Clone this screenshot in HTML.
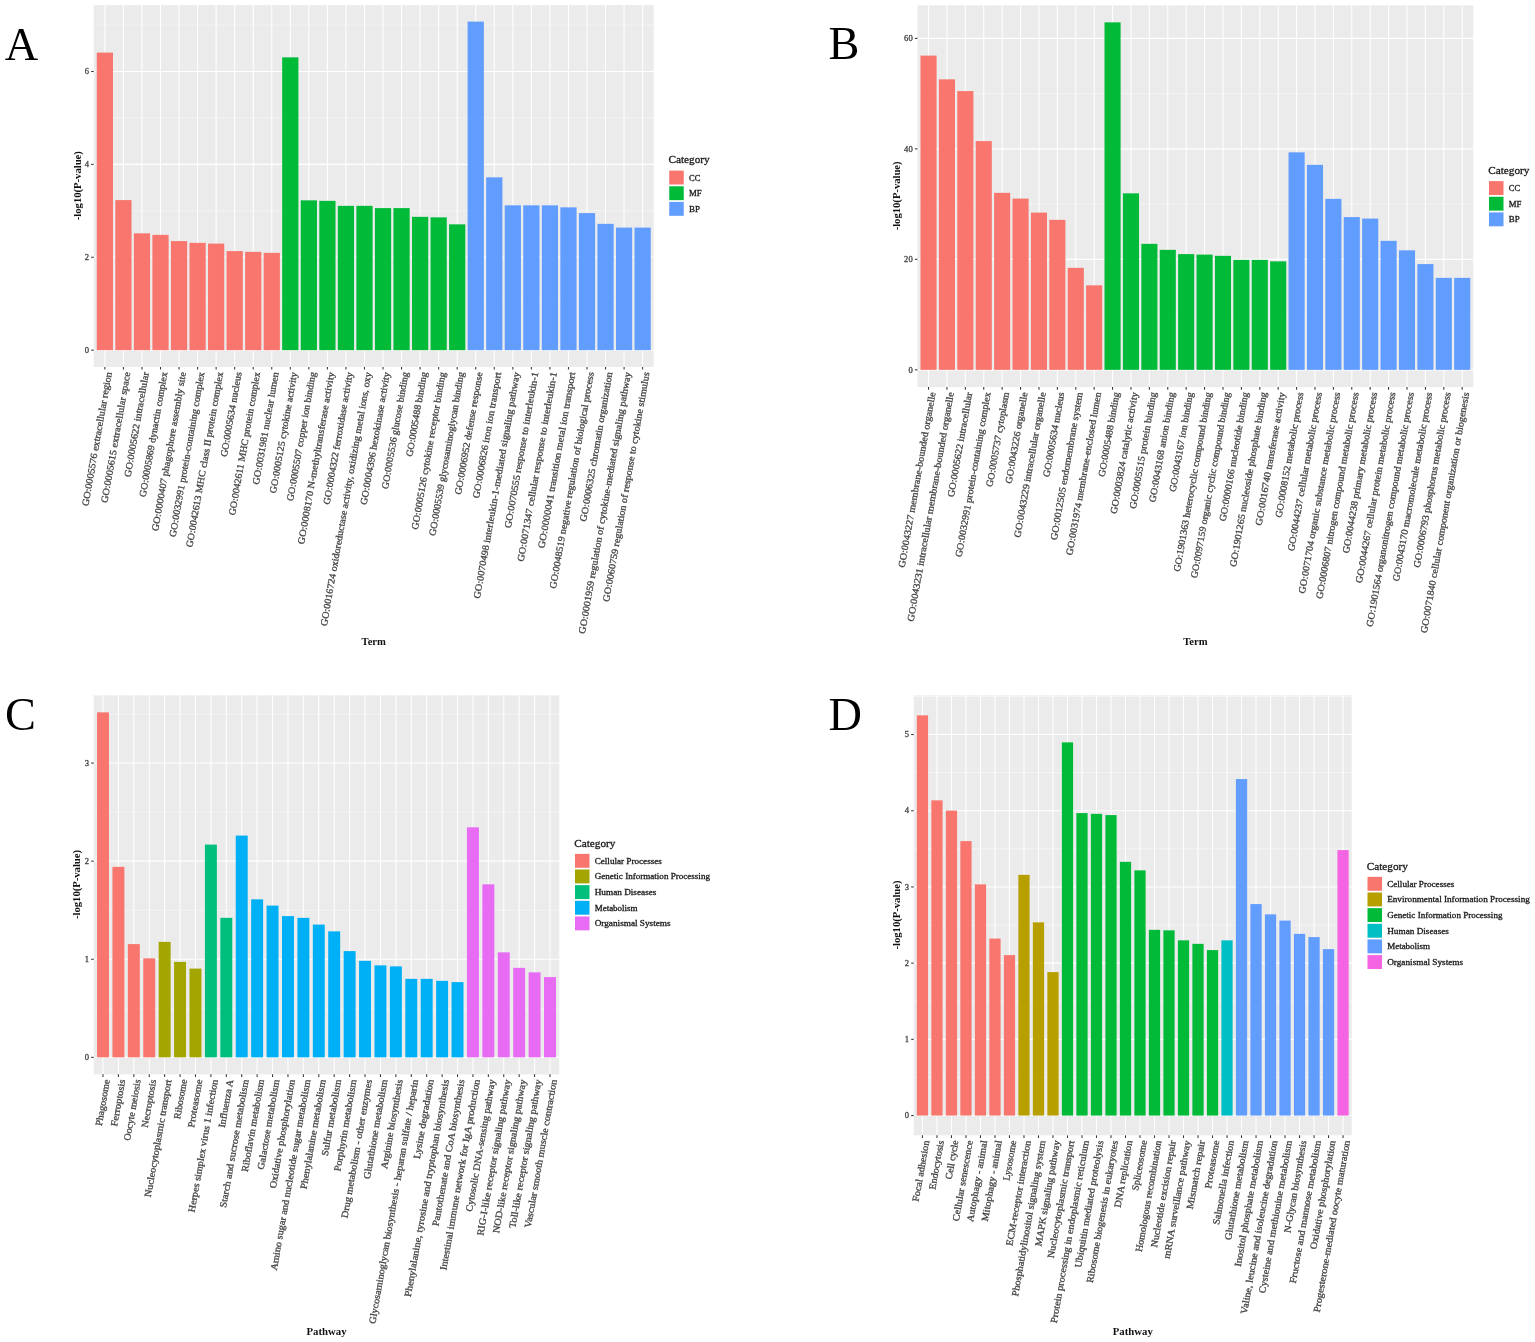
<!DOCTYPE html><html><head><meta charset="utf-8"><title>Figure</title><style>html,body{margin:0;padding:0;background:#fff}svg{display:block}text{font-family:"Liberation Serif",serif}.t{fill:#444;stroke:#444;stroke-width:.3px}.k{fill:#1a1a1a;stroke:#1a1a1a;stroke-width:.3px}.b{fill:#111}</style></head><body>
<svg width="1535" height="1342" viewBox="0 0 1535 1342">
<rect width="1535" height="1342" fill="#fff"/>
<g transform="translate(0,0.35)">
<rect x="93.75" y="4.75" width="560.0" height="361.85" fill="#EBEBEB"/>
<line x1="93.75" x2="653.75" y1="303.35" y2="303.35" stroke="#fff" stroke-width="0.55" stroke-opacity="0.85"/>
<line x1="93.75" x2="653.75" y1="210.45" y2="210.45" stroke="#fff" stroke-width="0.55" stroke-opacity="0.85"/>
<line x1="93.75" x2="653.75" y1="117.55" y2="117.55" stroke="#fff" stroke-width="0.55" stroke-opacity="0.85"/>
<line x1="93.75" x2="653.75" y1="24.65" y2="24.65" stroke="#fff" stroke-width="0.55" stroke-opacity="0.85"/>
<line x1="93.75" x2="653.75" y1="349.80" y2="349.80" stroke="#fff" stroke-width="1.05"/>
<line x1="93.75" x2="653.75" y1="256.90" y2="256.90" stroke="#fff" stroke-width="1.05"/>
<line x1="93.75" x2="653.75" y1="164.00" y2="164.00" stroke="#fff" stroke-width="1.05"/>
<line x1="93.75" x2="653.75" y1="71.10" y2="71.10" stroke="#fff" stroke-width="1.05"/>
<line x1="104.88" x2="104.88" y1="4.75" y2="366.6" stroke="#fff" stroke-width="1.05"/>
<line x1="123.42" x2="123.42" y1="4.75" y2="366.6" stroke="#fff" stroke-width="1.05"/>
<line x1="141.96" x2="141.96" y1="4.75" y2="366.6" stroke="#fff" stroke-width="1.05"/>
<line x1="160.50" x2="160.50" y1="4.75" y2="366.6" stroke="#fff" stroke-width="1.05"/>
<line x1="179.05" x2="179.05" y1="4.75" y2="366.6" stroke="#fff" stroke-width="1.05"/>
<line x1="197.59" x2="197.59" y1="4.75" y2="366.6" stroke="#fff" stroke-width="1.05"/>
<line x1="216.13" x2="216.13" y1="4.75" y2="366.6" stroke="#fff" stroke-width="1.05"/>
<line x1="234.68" x2="234.68" y1="4.75" y2="366.6" stroke="#fff" stroke-width="1.05"/>
<line x1="253.22" x2="253.22" y1="4.75" y2="366.6" stroke="#fff" stroke-width="1.05"/>
<line x1="271.76" x2="271.76" y1="4.75" y2="366.6" stroke="#fff" stroke-width="1.05"/>
<line x1="290.31" x2="290.31" y1="4.75" y2="366.6" stroke="#fff" stroke-width="1.05"/>
<line x1="308.85" x2="308.85" y1="4.75" y2="366.6" stroke="#fff" stroke-width="1.05"/>
<line x1="327.39" x2="327.39" y1="4.75" y2="366.6" stroke="#fff" stroke-width="1.05"/>
<line x1="345.94" x2="345.94" y1="4.75" y2="366.6" stroke="#fff" stroke-width="1.05"/>
<line x1="364.48" x2="364.48" y1="4.75" y2="366.6" stroke="#fff" stroke-width="1.05"/>
<line x1="383.02" x2="383.02" y1="4.75" y2="366.6" stroke="#fff" stroke-width="1.05"/>
<line x1="401.56" x2="401.56" y1="4.75" y2="366.6" stroke="#fff" stroke-width="1.05"/>
<line x1="420.11" x2="420.11" y1="4.75" y2="366.6" stroke="#fff" stroke-width="1.05"/>
<line x1="438.65" x2="438.65" y1="4.75" y2="366.6" stroke="#fff" stroke-width="1.05"/>
<line x1="457.19" x2="457.19" y1="4.75" y2="366.6" stroke="#fff" stroke-width="1.05"/>
<line x1="475.74" x2="475.74" y1="4.75" y2="366.6" stroke="#fff" stroke-width="1.05"/>
<line x1="494.28" x2="494.28" y1="4.75" y2="366.6" stroke="#fff" stroke-width="1.05"/>
<line x1="512.82" x2="512.82" y1="4.75" y2="366.6" stroke="#fff" stroke-width="1.05"/>
<line x1="531.37" x2="531.37" y1="4.75" y2="366.6" stroke="#fff" stroke-width="1.05"/>
<line x1="549.91" x2="549.91" y1="4.75" y2="366.6" stroke="#fff" stroke-width="1.05"/>
<line x1="568.45" x2="568.45" y1="4.75" y2="366.6" stroke="#fff" stroke-width="1.05"/>
<line x1="587.00" x2="587.00" y1="4.75" y2="366.6" stroke="#fff" stroke-width="1.05"/>
<line x1="605.54" x2="605.54" y1="4.75" y2="366.6" stroke="#fff" stroke-width="1.05"/>
<line x1="624.08" x2="624.08" y1="4.75" y2="366.6" stroke="#fff" stroke-width="1.05"/>
<line x1="642.62" x2="642.62" y1="4.75" y2="366.6" stroke="#fff" stroke-width="1.05"/>
<rect x="96.76" y="52.25" width="16.23" height="297.55" fill="#F8766D"/>
<rect x="115.31" y="199.75" width="16.23" height="150.05" fill="#F8766D"/>
<rect x="133.85" y="233.00" width="16.23" height="116.80" fill="#F8766D"/>
<rect x="152.39" y="234.50" width="16.23" height="115.30" fill="#F8766D"/>
<rect x="170.94" y="240.75" width="16.23" height="109.05" fill="#F8766D"/>
<rect x="189.48" y="242.50" width="16.23" height="107.30" fill="#F8766D"/>
<rect x="208.02" y="243.25" width="16.23" height="106.55" fill="#F8766D"/>
<rect x="226.56" y="250.75" width="16.23" height="99.05" fill="#F8766D"/>
<rect x="245.11" y="251.50" width="16.23" height="98.30" fill="#F8766D"/>
<rect x="263.65" y="252.50" width="16.23" height="97.30" fill="#F8766D"/>
<rect x="282.19" y="57.00" width="16.23" height="292.80" fill="#00BA38"/>
<rect x="300.74" y="200.00" width="16.23" height="149.80" fill="#00BA38"/>
<rect x="319.28" y="200.50" width="16.23" height="149.30" fill="#00BA38"/>
<rect x="337.82" y="205.50" width="16.23" height="144.30" fill="#00BA38"/>
<rect x="356.37" y="205.50" width="16.23" height="144.30" fill="#00BA38"/>
<rect x="374.91" y="207.75" width="16.23" height="142.05" fill="#00BA38"/>
<rect x="393.45" y="207.75" width="16.23" height="142.05" fill="#00BA38"/>
<rect x="412.00" y="216.50" width="16.23" height="133.30" fill="#00BA38"/>
<rect x="430.54" y="217.00" width="16.23" height="132.80" fill="#00BA38"/>
<rect x="449.08" y="224.00" width="16.23" height="125.80" fill="#00BA38"/>
<rect x="467.62" y="21.25" width="16.23" height="328.55" fill="#619CFF"/>
<rect x="486.17" y="177.00" width="16.23" height="172.80" fill="#619CFF"/>
<rect x="504.71" y="205.00" width="16.23" height="144.80" fill="#619CFF"/>
<rect x="523.25" y="205.00" width="16.23" height="144.80" fill="#619CFF"/>
<rect x="541.80" y="205.00" width="16.23" height="144.80" fill="#619CFF"/>
<rect x="560.34" y="207.00" width="16.23" height="142.80" fill="#619CFF"/>
<rect x="578.88" y="212.75" width="16.23" height="137.05" fill="#619CFF"/>
<rect x="597.43" y="223.50" width="16.23" height="126.30" fill="#619CFF"/>
<rect x="615.97" y="227.25" width="16.23" height="122.55" fill="#619CFF"/>
<rect x="634.51" y="227.25" width="16.23" height="122.55" fill="#619CFF"/>
<line x1="104.88" x2="104.88" y1="366.6" y2="369.20000000000005" stroke="#333" stroke-width="1.05"/>
<line x1="123.42" x2="123.42" y1="366.6" y2="369.20000000000005" stroke="#333" stroke-width="1.05"/>
<line x1="141.96" x2="141.96" y1="366.6" y2="369.20000000000005" stroke="#333" stroke-width="1.05"/>
<line x1="160.50" x2="160.50" y1="366.6" y2="369.20000000000005" stroke="#333" stroke-width="1.05"/>
<line x1="179.05" x2="179.05" y1="366.6" y2="369.20000000000005" stroke="#333" stroke-width="1.05"/>
<line x1="197.59" x2="197.59" y1="366.6" y2="369.20000000000005" stroke="#333" stroke-width="1.05"/>
<line x1="216.13" x2="216.13" y1="366.6" y2="369.20000000000005" stroke="#333" stroke-width="1.05"/>
<line x1="234.68" x2="234.68" y1="366.6" y2="369.20000000000005" stroke="#333" stroke-width="1.05"/>
<line x1="253.22" x2="253.22" y1="366.6" y2="369.20000000000005" stroke="#333" stroke-width="1.05"/>
<line x1="271.76" x2="271.76" y1="366.6" y2="369.20000000000005" stroke="#333" stroke-width="1.05"/>
<line x1="290.31" x2="290.31" y1="366.6" y2="369.20000000000005" stroke="#333" stroke-width="1.05"/>
<line x1="308.85" x2="308.85" y1="366.6" y2="369.20000000000005" stroke="#333" stroke-width="1.05"/>
<line x1="327.39" x2="327.39" y1="366.6" y2="369.20000000000005" stroke="#333" stroke-width="1.05"/>
<line x1="345.94" x2="345.94" y1="366.6" y2="369.20000000000005" stroke="#333" stroke-width="1.05"/>
<line x1="364.48" x2="364.48" y1="366.6" y2="369.20000000000005" stroke="#333" stroke-width="1.05"/>
<line x1="383.02" x2="383.02" y1="366.6" y2="369.20000000000005" stroke="#333" stroke-width="1.05"/>
<line x1="401.56" x2="401.56" y1="366.6" y2="369.20000000000005" stroke="#333" stroke-width="1.05"/>
<line x1="420.11" x2="420.11" y1="366.6" y2="369.20000000000005" stroke="#333" stroke-width="1.05"/>
<line x1="438.65" x2="438.65" y1="366.6" y2="369.20000000000005" stroke="#333" stroke-width="1.05"/>
<line x1="457.19" x2="457.19" y1="366.6" y2="369.20000000000005" stroke="#333" stroke-width="1.05"/>
<line x1="475.74" x2="475.74" y1="366.6" y2="369.20000000000005" stroke="#333" stroke-width="1.05"/>
<line x1="494.28" x2="494.28" y1="366.6" y2="369.20000000000005" stroke="#333" stroke-width="1.05"/>
<line x1="512.82" x2="512.82" y1="366.6" y2="369.20000000000005" stroke="#333" stroke-width="1.05"/>
<line x1="531.37" x2="531.37" y1="366.6" y2="369.20000000000005" stroke="#333" stroke-width="1.05"/>
<line x1="549.91" x2="549.91" y1="366.6" y2="369.20000000000005" stroke="#333" stroke-width="1.05"/>
<line x1="568.45" x2="568.45" y1="366.6" y2="369.20000000000005" stroke="#333" stroke-width="1.05"/>
<line x1="587.00" x2="587.00" y1="366.6" y2="369.20000000000005" stroke="#333" stroke-width="1.05"/>
<line x1="605.54" x2="605.54" y1="366.6" y2="369.20000000000005" stroke="#333" stroke-width="1.05"/>
<line x1="624.08" x2="624.08" y1="366.6" y2="369.20000000000005" stroke="#333" stroke-width="1.05"/>
<line x1="642.62" x2="642.62" y1="366.6" y2="369.20000000000005" stroke="#333" stroke-width="1.05"/>
<line x1="91.15" x2="93.75" y1="349.80" y2="349.80" stroke="#333" stroke-width="1.05"/>
<text class="t" x="88.95" y="352.50" text-anchor="end" font-size="8.2" textLength="4.28" lengthAdjust="spacingAndGlyphs">0</text>
<line x1="91.15" x2="93.75" y1="256.90" y2="256.90" stroke="#333" stroke-width="1.05"/>
<text class="t" x="88.95" y="259.60" text-anchor="end" font-size="8.2" textLength="4.28" lengthAdjust="spacingAndGlyphs">2</text>
<line x1="91.15" x2="93.75" y1="164.00" y2="164.00" stroke="#333" stroke-width="1.05"/>
<text class="t" x="88.95" y="166.70" text-anchor="end" font-size="8.2" textLength="4.28" lengthAdjust="spacingAndGlyphs">4</text>
<line x1="91.15" x2="93.75" y1="71.10" y2="71.10" stroke="#333" stroke-width="1.05"/>
<text class="t" x="88.95" y="73.80" text-anchor="end" font-size="8.2" textLength="4.28" lengthAdjust="spacingAndGlyphs">6</text>
<text class="t" transform="translate(111.78,372.30) rotate(-80)" text-anchor="end" font-size="9.6" textLength="136.03" lengthAdjust="spacingAndGlyphs">GO:0005576 extracellular region</text>
<text class="t" transform="translate(130.32,372.30) rotate(-80)" text-anchor="end" font-size="9.6" textLength="132.70" lengthAdjust="spacingAndGlyphs">GO:0005615 extracellular space</text>
<text class="t" transform="translate(148.86,372.30) rotate(-80)" text-anchor="end" font-size="9.6" textLength="106.37" lengthAdjust="spacingAndGlyphs">GO:0005622 intracellular</text>
<text class="t" transform="translate(167.40,372.30) rotate(-80)" text-anchor="end" font-size="9.6" textLength="126.70" lengthAdjust="spacingAndGlyphs">GO:0005869 dynactin complex</text>
<text class="t" transform="translate(185.95,372.30) rotate(-80)" text-anchor="end" font-size="9.6" textLength="161.22" lengthAdjust="spacingAndGlyphs">GO:0000407 phagophore assembly site</text>
<text class="t" transform="translate(204.49,372.30) rotate(-80)" text-anchor="end" font-size="9.6" textLength="167.36" lengthAdjust="spacingAndGlyphs">GO:0032991 protein-containing complex</text>
<text class="t" transform="translate(223.03,372.30) rotate(-80)" text-anchor="end" font-size="9.6" textLength="177.86" lengthAdjust="spacingAndGlyphs">GO:0042613 MHC class II protein complex</text>
<text class="t" transform="translate(241.58,372.30) rotate(-80)" text-anchor="end" font-size="9.6" textLength="86.03" lengthAdjust="spacingAndGlyphs">GO:0005634 nucleus</text>
<text class="t" transform="translate(260.12,372.30) rotate(-80)" text-anchor="end" font-size="9.6" textLength="145.36" lengthAdjust="spacingAndGlyphs">GO:0042611 MHC protein complex</text>
<text class="t" transform="translate(278.66,372.30) rotate(-80)" text-anchor="end" font-size="9.6" textLength="114.20" lengthAdjust="spacingAndGlyphs">GO:0031981 nuclear lumen</text>
<text class="t" transform="translate(297.21,372.30) rotate(-80)" text-anchor="end" font-size="9.6" textLength="122.88" lengthAdjust="spacingAndGlyphs">GO:0005125 cytokine activity</text>
<text class="t" transform="translate(315.75,372.30) rotate(-80)" text-anchor="end" font-size="9.6" textLength="130.87" lengthAdjust="spacingAndGlyphs">GO:0005507 copper ion binding</text>
<text class="t" transform="translate(334.29,372.30) rotate(-80)" text-anchor="end" font-size="9.6" textLength="174.71" lengthAdjust="spacingAndGlyphs">GO:0008170 N-methyltransferase activity</text>
<text class="t" transform="translate(352.84,372.30) rotate(-80)" text-anchor="end" font-size="9.6" textLength="134.37" lengthAdjust="spacingAndGlyphs">GO:0004322 ferroxidase activity</text>
<text class="t" transform="translate(371.38,372.30) rotate(-80)" text-anchor="end" font-size="9.6" textLength="257.72" lengthAdjust="spacingAndGlyphs">GO:0016724 oxidoreductase activity, oxidizing metal ions, oxy</text>
<text class="t" transform="translate(389.92,372.30) rotate(-80)" text-anchor="end" font-size="9.6" textLength="134.55" lengthAdjust="spacingAndGlyphs">GO:0004396 hexokinase activity</text>
<text class="t" transform="translate(408.46,372.30) rotate(-80)" text-anchor="end" font-size="9.6" textLength="118.54" lengthAdjust="spacingAndGlyphs">GO:0005536 glucose binding</text>
<text class="t" transform="translate(427.01,372.30) rotate(-80)" text-anchor="end" font-size="9.6" textLength="85.71" lengthAdjust="spacingAndGlyphs">GO:0005488 binding</text>
<text class="t" transform="translate(445.55,372.30) rotate(-80)" text-anchor="end" font-size="9.6" textLength="159.87" lengthAdjust="spacingAndGlyphs">GO:0005126 cytokine receptor binding</text>
<text class="t" transform="translate(464.09,372.30) rotate(-80)" text-anchor="end" font-size="9.6" textLength="166.21" lengthAdjust="spacingAndGlyphs">GO:0005539 glycosaminoglycan binding</text>
<text class="t" transform="translate(482.64,372.30) rotate(-80)" text-anchor="end" font-size="9.6" textLength="124.36" lengthAdjust="spacingAndGlyphs">GO:0006952 defense response</text>
<text class="t" transform="translate(501.18,372.30) rotate(-80)" text-anchor="end" font-size="9.6" textLength="128.03" lengthAdjust="spacingAndGlyphs">GO:0006826 iron ion transport</text>
<text class="t" transform="translate(519.72,372.30) rotate(-80)" text-anchor="end" font-size="9.6" textLength="229.90" lengthAdjust="spacingAndGlyphs">GO:0070498 interleukin-1-mediated signaling pathway</text>
<text class="t" transform="translate(538.27,372.30) rotate(-80)" text-anchor="end" font-size="9.6" textLength="158.37" lengthAdjust="spacingAndGlyphs">GO:0070555 response to interleukin-1</text>
<text class="t" transform="translate(556.81,372.30) rotate(-80)" text-anchor="end" font-size="9.6" textLength="192.38" lengthAdjust="spacingAndGlyphs">GO:0071347 cellular response to interleukin-1</text>
<text class="t" transform="translate(575.35,372.30) rotate(-80)" text-anchor="end" font-size="9.6" textLength="178.88" lengthAdjust="spacingAndGlyphs">GO:0000041 transition metal ion transport</text>
<text class="t" transform="translate(593.90,372.30) rotate(-80)" text-anchor="end" font-size="9.6" textLength="219.72" lengthAdjust="spacingAndGlyphs">GO:0048519 negative regulation of biological process</text>
<text class="t" transform="translate(612.44,372.30) rotate(-80)" text-anchor="end" font-size="9.6" textLength="151.70" lengthAdjust="spacingAndGlyphs">GO:0006325 chromatin organization</text>
<text class="t" transform="translate(630.98,372.30) rotate(-80)" text-anchor="end" font-size="9.6" textLength="265.56" lengthAdjust="spacingAndGlyphs">GO:0001959 regulation of cytokine-mediated signaling pathway</text>
<text class="t" transform="translate(649.52,372.30) rotate(-80)" text-anchor="end" font-size="9.6" textLength="233.05" lengthAdjust="spacingAndGlyphs">GO:0060759 regulation of response to cytokine stimulus</text>
</g>
<text class="b" x="373.75" y="645" text-anchor="middle" font-size="9.7" font-weight="bold" textLength="24.42" lengthAdjust="spacingAndGlyphs">Term</text>
<text class="b" transform="translate(81.2,185.68) rotate(-90)" text-anchor="middle" font-size="9.7" font-weight="bold" textLength="68.98" lengthAdjust="spacingAndGlyphs">-log10(P-value)</text>
<text class="k" x="668.45" y="162.9" font-size="10.5" textLength="41.22" lengthAdjust="spacingAndGlyphs">Category</text>
<rect x="669.25" y="170.60" width="14.5" height="13.9" fill="#F8766D"/>
<text class="k" x="688.95" y="180.50" font-size="8.4" textLength="11.41" lengthAdjust="spacingAndGlyphs">CC</text>
<rect x="669.25" y="186.25" width="14.5" height="13.9" fill="#00BA38"/>
<text class="k" x="688.95" y="196.15" font-size="8.4" textLength="12.73" lengthAdjust="spacingAndGlyphs">MF</text>
<rect x="669.25" y="201.90" width="14.5" height="13.9" fill="#619CFF"/>
<text class="k" x="688.95" y="211.80" font-size="8.4" textLength="10.97" lengthAdjust="spacingAndGlyphs">BP</text>
<text x="4.8" y="59.6" font-size="46.3" fill="#000">A</text>
<g transform="translate(0,0.35)">
<rect x="917.5" y="5" width="555.75" height="381.75" fill="#EBEBEB"/>
<line x1="917.5" x2="1473.25" y1="314.25" y2="314.25" stroke="#fff" stroke-width="0.55" stroke-opacity="0.85"/>
<line x1="917.5" x2="1473.25" y1="203.75" y2="203.75" stroke="#fff" stroke-width="0.55" stroke-opacity="0.85"/>
<line x1="917.5" x2="1473.25" y1="93.25" y2="93.25" stroke="#fff" stroke-width="0.55" stroke-opacity="0.85"/>
<line x1="917.5" x2="1473.25" y1="369.50" y2="369.50" stroke="#fff" stroke-width="1.05"/>
<line x1="917.5" x2="1473.25" y1="259.00" y2="259.00" stroke="#fff" stroke-width="1.05"/>
<line x1="917.5" x2="1473.25" y1="148.50" y2="148.50" stroke="#fff" stroke-width="1.05"/>
<line x1="917.5" x2="1473.25" y1="38.00" y2="38.00" stroke="#fff" stroke-width="1.05"/>
<line x1="928.54" x2="928.54" y1="5" y2="386.75" stroke="#fff" stroke-width="1.05"/>
<line x1="946.94" x2="946.94" y1="5" y2="386.75" stroke="#fff" stroke-width="1.05"/>
<line x1="965.35" x2="965.35" y1="5" y2="386.75" stroke="#fff" stroke-width="1.05"/>
<line x1="983.75" x2="983.75" y1="5" y2="386.75" stroke="#fff" stroke-width="1.05"/>
<line x1="1002.15" x2="1002.15" y1="5" y2="386.75" stroke="#fff" stroke-width="1.05"/>
<line x1="1020.55" x2="1020.55" y1="5" y2="386.75" stroke="#fff" stroke-width="1.05"/>
<line x1="1038.96" x2="1038.96" y1="5" y2="386.75" stroke="#fff" stroke-width="1.05"/>
<line x1="1057.36" x2="1057.36" y1="5" y2="386.75" stroke="#fff" stroke-width="1.05"/>
<line x1="1075.76" x2="1075.76" y1="5" y2="386.75" stroke="#fff" stroke-width="1.05"/>
<line x1="1094.16" x2="1094.16" y1="5" y2="386.75" stroke="#fff" stroke-width="1.05"/>
<line x1="1112.56" x2="1112.56" y1="5" y2="386.75" stroke="#fff" stroke-width="1.05"/>
<line x1="1130.97" x2="1130.97" y1="5" y2="386.75" stroke="#fff" stroke-width="1.05"/>
<line x1="1149.37" x2="1149.37" y1="5" y2="386.75" stroke="#fff" stroke-width="1.05"/>
<line x1="1167.77" x2="1167.77" y1="5" y2="386.75" stroke="#fff" stroke-width="1.05"/>
<line x1="1186.17" x2="1186.17" y1="5" y2="386.75" stroke="#fff" stroke-width="1.05"/>
<line x1="1204.58" x2="1204.58" y1="5" y2="386.75" stroke="#fff" stroke-width="1.05"/>
<line x1="1222.98" x2="1222.98" y1="5" y2="386.75" stroke="#fff" stroke-width="1.05"/>
<line x1="1241.38" x2="1241.38" y1="5" y2="386.75" stroke="#fff" stroke-width="1.05"/>
<line x1="1259.78" x2="1259.78" y1="5" y2="386.75" stroke="#fff" stroke-width="1.05"/>
<line x1="1278.19" x2="1278.19" y1="5" y2="386.75" stroke="#fff" stroke-width="1.05"/>
<line x1="1296.59" x2="1296.59" y1="5" y2="386.75" stroke="#fff" stroke-width="1.05"/>
<line x1="1314.99" x2="1314.99" y1="5" y2="386.75" stroke="#fff" stroke-width="1.05"/>
<line x1="1333.39" x2="1333.39" y1="5" y2="386.75" stroke="#fff" stroke-width="1.05"/>
<line x1="1351.79" x2="1351.79" y1="5" y2="386.75" stroke="#fff" stroke-width="1.05"/>
<line x1="1370.20" x2="1370.20" y1="5" y2="386.75" stroke="#fff" stroke-width="1.05"/>
<line x1="1388.60" x2="1388.60" y1="5" y2="386.75" stroke="#fff" stroke-width="1.05"/>
<line x1="1407.00" x2="1407.00" y1="5" y2="386.75" stroke="#fff" stroke-width="1.05"/>
<line x1="1425.40" x2="1425.40" y1="5" y2="386.75" stroke="#fff" stroke-width="1.05"/>
<line x1="1443.81" x2="1443.81" y1="5" y2="386.75" stroke="#fff" stroke-width="1.05"/>
<line x1="1462.21" x2="1462.21" y1="5" y2="386.75" stroke="#fff" stroke-width="1.05"/>
<rect x="920.49" y="55.25" width="16.10" height="314.25" fill="#F8766D"/>
<rect x="938.89" y="79.00" width="16.10" height="290.50" fill="#F8766D"/>
<rect x="957.30" y="90.75" width="16.10" height="278.75" fill="#F8766D"/>
<rect x="975.70" y="140.75" width="16.10" height="228.75" fill="#F8766D"/>
<rect x="994.10" y="192.50" width="16.10" height="177.00" fill="#F8766D"/>
<rect x="1012.50" y="198.25" width="16.10" height="171.25" fill="#F8766D"/>
<rect x="1030.90" y="212.25" width="16.10" height="157.25" fill="#F8766D"/>
<rect x="1049.31" y="219.50" width="16.10" height="150.00" fill="#F8766D"/>
<rect x="1067.71" y="267.50" width="16.10" height="102.00" fill="#F8766D"/>
<rect x="1086.11" y="285.00" width="16.10" height="84.50" fill="#F8766D"/>
<rect x="1104.51" y="22.00" width="16.10" height="347.50" fill="#00BA38"/>
<rect x="1122.92" y="193.00" width="16.10" height="176.50" fill="#00BA38"/>
<rect x="1141.32" y="243.50" width="16.10" height="126.00" fill="#00BA38"/>
<rect x="1159.72" y="249.50" width="16.10" height="120.00" fill="#00BA38"/>
<rect x="1178.12" y="253.75" width="16.10" height="115.75" fill="#00BA38"/>
<rect x="1196.53" y="254.25" width="16.10" height="115.25" fill="#00BA38"/>
<rect x="1214.93" y="255.50" width="16.10" height="114.00" fill="#00BA38"/>
<rect x="1233.33" y="259.50" width="16.10" height="110.00" fill="#00BA38"/>
<rect x="1251.73" y="259.50" width="16.10" height="110.00" fill="#00BA38"/>
<rect x="1270.13" y="261.00" width="16.10" height="108.50" fill="#00BA38"/>
<rect x="1288.54" y="152.00" width="16.10" height="217.50" fill="#619CFF"/>
<rect x="1306.94" y="164.50" width="16.10" height="205.00" fill="#619CFF"/>
<rect x="1325.34" y="198.50" width="16.10" height="171.00" fill="#619CFF"/>
<rect x="1343.74" y="216.75" width="16.10" height="152.75" fill="#619CFF"/>
<rect x="1362.15" y="218.25" width="16.10" height="151.25" fill="#619CFF"/>
<rect x="1380.55" y="240.50" width="16.10" height="129.00" fill="#619CFF"/>
<rect x="1398.95" y="250.00" width="16.10" height="119.50" fill="#619CFF"/>
<rect x="1417.35" y="263.75" width="16.10" height="105.75" fill="#619CFF"/>
<rect x="1435.76" y="277.50" width="16.10" height="92.00" fill="#619CFF"/>
<rect x="1454.16" y="277.50" width="16.10" height="92.00" fill="#619CFF"/>
<line x1="928.54" x2="928.54" y1="386.75" y2="389.35" stroke="#333" stroke-width="1.05"/>
<line x1="946.94" x2="946.94" y1="386.75" y2="389.35" stroke="#333" stroke-width="1.05"/>
<line x1="965.35" x2="965.35" y1="386.75" y2="389.35" stroke="#333" stroke-width="1.05"/>
<line x1="983.75" x2="983.75" y1="386.75" y2="389.35" stroke="#333" stroke-width="1.05"/>
<line x1="1002.15" x2="1002.15" y1="386.75" y2="389.35" stroke="#333" stroke-width="1.05"/>
<line x1="1020.55" x2="1020.55" y1="386.75" y2="389.35" stroke="#333" stroke-width="1.05"/>
<line x1="1038.96" x2="1038.96" y1="386.75" y2="389.35" stroke="#333" stroke-width="1.05"/>
<line x1="1057.36" x2="1057.36" y1="386.75" y2="389.35" stroke="#333" stroke-width="1.05"/>
<line x1="1075.76" x2="1075.76" y1="386.75" y2="389.35" stroke="#333" stroke-width="1.05"/>
<line x1="1094.16" x2="1094.16" y1="386.75" y2="389.35" stroke="#333" stroke-width="1.05"/>
<line x1="1112.56" x2="1112.56" y1="386.75" y2="389.35" stroke="#333" stroke-width="1.05"/>
<line x1="1130.97" x2="1130.97" y1="386.75" y2="389.35" stroke="#333" stroke-width="1.05"/>
<line x1="1149.37" x2="1149.37" y1="386.75" y2="389.35" stroke="#333" stroke-width="1.05"/>
<line x1="1167.77" x2="1167.77" y1="386.75" y2="389.35" stroke="#333" stroke-width="1.05"/>
<line x1="1186.17" x2="1186.17" y1="386.75" y2="389.35" stroke="#333" stroke-width="1.05"/>
<line x1="1204.58" x2="1204.58" y1="386.75" y2="389.35" stroke="#333" stroke-width="1.05"/>
<line x1="1222.98" x2="1222.98" y1="386.75" y2="389.35" stroke="#333" stroke-width="1.05"/>
<line x1="1241.38" x2="1241.38" y1="386.75" y2="389.35" stroke="#333" stroke-width="1.05"/>
<line x1="1259.78" x2="1259.78" y1="386.75" y2="389.35" stroke="#333" stroke-width="1.05"/>
<line x1="1278.19" x2="1278.19" y1="386.75" y2="389.35" stroke="#333" stroke-width="1.05"/>
<line x1="1296.59" x2="1296.59" y1="386.75" y2="389.35" stroke="#333" stroke-width="1.05"/>
<line x1="1314.99" x2="1314.99" y1="386.75" y2="389.35" stroke="#333" stroke-width="1.05"/>
<line x1="1333.39" x2="1333.39" y1="386.75" y2="389.35" stroke="#333" stroke-width="1.05"/>
<line x1="1351.79" x2="1351.79" y1="386.75" y2="389.35" stroke="#333" stroke-width="1.05"/>
<line x1="1370.20" x2="1370.20" y1="386.75" y2="389.35" stroke="#333" stroke-width="1.05"/>
<line x1="1388.60" x2="1388.60" y1="386.75" y2="389.35" stroke="#333" stroke-width="1.05"/>
<line x1="1407.00" x2="1407.00" y1="386.75" y2="389.35" stroke="#333" stroke-width="1.05"/>
<line x1="1425.40" x2="1425.40" y1="386.75" y2="389.35" stroke="#333" stroke-width="1.05"/>
<line x1="1443.81" x2="1443.81" y1="386.75" y2="389.35" stroke="#333" stroke-width="1.05"/>
<line x1="1462.21" x2="1462.21" y1="386.75" y2="389.35" stroke="#333" stroke-width="1.05"/>
<line x1="914.9" x2="917.5" y1="369.50" y2="369.50" stroke="#333" stroke-width="1.05"/>
<text class="t" x="912.70" y="372.20" text-anchor="end" font-size="8.2" textLength="4.28" lengthAdjust="spacingAndGlyphs">0</text>
<line x1="914.9" x2="917.5" y1="259.00" y2="259.00" stroke="#333" stroke-width="1.05"/>
<text class="t" x="912.70" y="261.70" text-anchor="end" font-size="8.2" textLength="8.56" lengthAdjust="spacingAndGlyphs">20</text>
<line x1="914.9" x2="917.5" y1="148.50" y2="148.50" stroke="#333" stroke-width="1.05"/>
<text class="t" x="912.70" y="151.20" text-anchor="end" font-size="8.2" textLength="8.56" lengthAdjust="spacingAndGlyphs">40</text>
<line x1="914.9" x2="917.5" y1="38.00" y2="38.00" stroke="#333" stroke-width="1.05"/>
<text class="t" x="912.70" y="40.70" text-anchor="end" font-size="8.2" textLength="8.56" lengthAdjust="spacingAndGlyphs">60</text>
<text class="t" transform="translate(935.44,392.45) rotate(-80)" text-anchor="end" font-size="9.6" textLength="177.88" lengthAdjust="spacingAndGlyphs">GO:0043227 membrane-bounded organelle</text>
<text class="t" transform="translate(953.84,392.45) rotate(-80)" text-anchor="end" font-size="9.6" textLength="232.71" lengthAdjust="spacingAndGlyphs">GO:0043231 intracellular membrane-bounded organelle</text>
<text class="t" transform="translate(972.25,392.45) rotate(-80)" text-anchor="end" font-size="9.6" textLength="106.37" lengthAdjust="spacingAndGlyphs">GO:0005622 intracellular</text>
<text class="t" transform="translate(990.65,392.45) rotate(-80)" text-anchor="end" font-size="9.6" textLength="167.36" lengthAdjust="spacingAndGlyphs">GO:0032991 protein-containing complex</text>
<text class="t" transform="translate(1009.05,392.45) rotate(-80)" text-anchor="end" font-size="9.6" textLength="96.04" lengthAdjust="spacingAndGlyphs">GO:0005737 cytoplasm</text>
<text class="t" transform="translate(1027.45,392.45) rotate(-80)" text-anchor="end" font-size="9.6" textLength="92.54" lengthAdjust="spacingAndGlyphs">GO:0043226 organelle</text>
<text class="t" transform="translate(1045.86,392.45) rotate(-80)" text-anchor="end" font-size="9.6" textLength="147.38" lengthAdjust="spacingAndGlyphs">GO:0043229 intracellular organelle</text>
<text class="t" transform="translate(1064.26,392.45) rotate(-80)" text-anchor="end" font-size="9.6" textLength="86.03" lengthAdjust="spacingAndGlyphs">GO:0005634 nucleus</text>
<text class="t" transform="translate(1082.66,392.45) rotate(-80)" text-anchor="end" font-size="9.6" textLength="149.88" lengthAdjust="spacingAndGlyphs">GO:0012505 endomembrane system</text>
<text class="t" transform="translate(1101.06,392.45) rotate(-80)" text-anchor="end" font-size="9.6" textLength="165.54" lengthAdjust="spacingAndGlyphs">GO:0031974 membrane-enclosed lumen</text>
<text class="t" transform="translate(1119.46,392.45) rotate(-80)" text-anchor="end" font-size="9.6" textLength="85.71" lengthAdjust="spacingAndGlyphs">GO:0005488 binding</text>
<text class="t" transform="translate(1137.87,392.45) rotate(-80)" text-anchor="end" font-size="9.6" textLength="123.38" lengthAdjust="spacingAndGlyphs">GO:0003824 catalytic activity</text>
<text class="t" transform="translate(1156.27,392.45) rotate(-80)" text-anchor="end" font-size="9.6" textLength="118.21" lengthAdjust="spacingAndGlyphs">GO:0005515 protein binding</text>
<text class="t" transform="translate(1174.67,392.45) rotate(-80)" text-anchor="end" font-size="9.6" textLength="111.55" lengthAdjust="spacingAndGlyphs">GO:0043168 anion binding</text>
<text class="t" transform="translate(1193.07,392.45) rotate(-80)" text-anchor="end" font-size="9.6" textLength="101.04" lengthAdjust="spacingAndGlyphs">GO:0043167 ion binding</text>
<text class="t" transform="translate(1211.48,392.45) rotate(-80)" text-anchor="end" font-size="9.6" textLength="182.03" lengthAdjust="spacingAndGlyphs">GO:1901363 heterocyclic compound binding</text>
<text class="t" transform="translate(1229.88,392.45) rotate(-80)" text-anchor="end" font-size="9.6" textLength="188.69" lengthAdjust="spacingAndGlyphs">GO:0097159 organic cyclic compound binding</text>
<text class="t" transform="translate(1248.28,392.45) rotate(-80)" text-anchor="end" font-size="9.6" textLength="131.04" lengthAdjust="spacingAndGlyphs">GO:0000166 nucleotide binding</text>
<text class="t" transform="translate(1266.68,392.45) rotate(-80)" text-anchor="end" font-size="9.6" textLength="177.21" lengthAdjust="spacingAndGlyphs">GO:1901265 nucleoside phosphate binding</text>
<text class="t" transform="translate(1285.09,392.45) rotate(-80)" text-anchor="end" font-size="9.6" textLength="135.21" lengthAdjust="spacingAndGlyphs">GO:0016740 transferase activity</text>
<text class="t" transform="translate(1303.49,392.45) rotate(-80)" text-anchor="end" font-size="9.6" textLength="127.21" lengthAdjust="spacingAndGlyphs">GO:0008152 metabolic process</text>
<text class="t" transform="translate(1321.89,392.45) rotate(-80)" text-anchor="end" font-size="9.6" textLength="161.21" lengthAdjust="spacingAndGlyphs">GO:0044237 cellular metabolic process</text>
<text class="t" transform="translate(1340.29,392.45) rotate(-80)" text-anchor="end" font-size="9.6" textLength="204.21" lengthAdjust="spacingAndGlyphs">GO:0071704 organic substance metabolic process</text>
<text class="t" transform="translate(1358.69,392.45) rotate(-80)" text-anchor="end" font-size="9.6" textLength="209.70" lengthAdjust="spacingAndGlyphs">GO:0006807 nitrogen compound metabolic process</text>
<text class="t" transform="translate(1377.10,392.45) rotate(-80)" text-anchor="end" font-size="9.6" textLength="163.54" lengthAdjust="spacingAndGlyphs">GO:0044238 primary metabolic process</text>
<text class="t" transform="translate(1395.50,392.45) rotate(-80)" text-anchor="end" font-size="9.6" textLength="193.71" lengthAdjust="spacingAndGlyphs">GO:0044267 cellular protein metabolic process</text>
<text class="t" transform="translate(1413.90,392.45) rotate(-80)" text-anchor="end" font-size="9.6" textLength="238.03" lengthAdjust="spacingAndGlyphs">GO:1901564 organonitrogen compound metabolic process</text>
<text class="t" transform="translate(1432.30,392.45) rotate(-80)" text-anchor="end" font-size="9.6" textLength="191.87" lengthAdjust="spacingAndGlyphs">GO:0043170 macromolecule metabolic process</text>
<text class="t" transform="translate(1450.71,392.45) rotate(-80)" text-anchor="end" font-size="9.6" textLength="177.87" lengthAdjust="spacingAndGlyphs">GO:0006793 phosphorus metabolic process</text>
<text class="t" transform="translate(1469.11,392.45) rotate(-80)" text-anchor="end" font-size="9.6" textLength="244.38" lengthAdjust="spacingAndGlyphs">GO:0071840 cellular component organization or biogenesis</text>
</g>
<text class="b" x="1195.38" y="645" text-anchor="middle" font-size="9.7" font-weight="bold" textLength="24.42" lengthAdjust="spacingAndGlyphs">Term</text>
<text class="b" transform="translate(900.2,195.88) rotate(-90)" text-anchor="middle" font-size="9.7" font-weight="bold" textLength="68.98" lengthAdjust="spacingAndGlyphs">-log10(P-value)</text>
<text class="k" x="1488.2" y="173.6" font-size="10.5" textLength="41.22" lengthAdjust="spacingAndGlyphs">Category</text>
<rect x="1489.0" y="181.10" width="14.5" height="13.9" fill="#F8766D"/>
<text class="k" x="1508.7" y="191.00" font-size="8.4" textLength="11.41" lengthAdjust="spacingAndGlyphs">CC</text>
<rect x="1489.0" y="196.75" width="14.5" height="13.9" fill="#00BA38"/>
<text class="k" x="1508.7" y="206.65" font-size="8.4" textLength="12.73" lengthAdjust="spacingAndGlyphs">MF</text>
<rect x="1489.0" y="212.40" width="14.5" height="13.9" fill="#619CFF"/>
<text class="k" x="1508.7" y="222.30" font-size="8.4" textLength="10.97" lengthAdjust="spacingAndGlyphs">BP</text>
<text x="828.6" y="59.3" font-size="46.3" fill="#000">B</text>
<g transform="translate(0,0.35)">
<rect x="93.75" y="695" width="465.5" height="379" fill="#EBEBEB"/>
<line x1="93.75" x2="559.25" y1="1007.95" y2="1007.95" stroke="#fff" stroke-width="0.55" stroke-opacity="0.85"/>
<line x1="93.75" x2="559.25" y1="909.85" y2="909.85" stroke="#fff" stroke-width="0.55" stroke-opacity="0.85"/>
<line x1="93.75" x2="559.25" y1="811.75" y2="811.75" stroke="#fff" stroke-width="0.55" stroke-opacity="0.85"/>
<line x1="93.75" x2="559.25" y1="713.65" y2="713.65" stroke="#fff" stroke-width="0.55" stroke-opacity="0.85"/>
<line x1="93.75" x2="559.25" y1="1057.00" y2="1057.00" stroke="#fff" stroke-width="1.05"/>
<line x1="93.75" x2="559.25" y1="958.90" y2="958.90" stroke="#fff" stroke-width="1.05"/>
<line x1="93.75" x2="559.25" y1="860.80" y2="860.80" stroke="#fff" stroke-width="1.05"/>
<line x1="93.75" x2="559.25" y1="762.70" y2="762.70" stroke="#fff" stroke-width="1.05"/>
<line x1="103.00" x2="103.00" y1="695" y2="1074" stroke="#fff" stroke-width="1.05"/>
<line x1="118.41" x2="118.41" y1="695" y2="1074" stroke="#fff" stroke-width="1.05"/>
<line x1="133.83" x2="133.83" y1="695" y2="1074" stroke="#fff" stroke-width="1.05"/>
<line x1="149.24" x2="149.24" y1="695" y2="1074" stroke="#fff" stroke-width="1.05"/>
<line x1="164.65" x2="164.65" y1="695" y2="1074" stroke="#fff" stroke-width="1.05"/>
<line x1="180.07" x2="180.07" y1="695" y2="1074" stroke="#fff" stroke-width="1.05"/>
<line x1="195.48" x2="195.48" y1="695" y2="1074" stroke="#fff" stroke-width="1.05"/>
<line x1="210.90" x2="210.90" y1="695" y2="1074" stroke="#fff" stroke-width="1.05"/>
<line x1="226.31" x2="226.31" y1="695" y2="1074" stroke="#fff" stroke-width="1.05"/>
<line x1="241.72" x2="241.72" y1="695" y2="1074" stroke="#fff" stroke-width="1.05"/>
<line x1="257.14" x2="257.14" y1="695" y2="1074" stroke="#fff" stroke-width="1.05"/>
<line x1="272.55" x2="272.55" y1="695" y2="1074" stroke="#fff" stroke-width="1.05"/>
<line x1="287.97" x2="287.97" y1="695" y2="1074" stroke="#fff" stroke-width="1.05"/>
<line x1="303.38" x2="303.38" y1="695" y2="1074" stroke="#fff" stroke-width="1.05"/>
<line x1="318.79" x2="318.79" y1="695" y2="1074" stroke="#fff" stroke-width="1.05"/>
<line x1="334.21" x2="334.21" y1="695" y2="1074" stroke="#fff" stroke-width="1.05"/>
<line x1="349.62" x2="349.62" y1="695" y2="1074" stroke="#fff" stroke-width="1.05"/>
<line x1="365.03" x2="365.03" y1="695" y2="1074" stroke="#fff" stroke-width="1.05"/>
<line x1="380.45" x2="380.45" y1="695" y2="1074" stroke="#fff" stroke-width="1.05"/>
<line x1="395.86" x2="395.86" y1="695" y2="1074" stroke="#fff" stroke-width="1.05"/>
<line x1="411.28" x2="411.28" y1="695" y2="1074" stroke="#fff" stroke-width="1.05"/>
<line x1="426.69" x2="426.69" y1="695" y2="1074" stroke="#fff" stroke-width="1.05"/>
<line x1="442.10" x2="442.10" y1="695" y2="1074" stroke="#fff" stroke-width="1.05"/>
<line x1="457.52" x2="457.52" y1="695" y2="1074" stroke="#fff" stroke-width="1.05"/>
<line x1="472.93" x2="472.93" y1="695" y2="1074" stroke="#fff" stroke-width="1.05"/>
<line x1="488.35" x2="488.35" y1="695" y2="1074" stroke="#fff" stroke-width="1.05"/>
<line x1="503.76" x2="503.76" y1="695" y2="1074" stroke="#fff" stroke-width="1.05"/>
<line x1="519.17" x2="519.17" y1="695" y2="1074" stroke="#fff" stroke-width="1.05"/>
<line x1="534.59" x2="534.59" y1="695" y2="1074" stroke="#fff" stroke-width="1.05"/>
<line x1="550.00" x2="550.00" y1="695" y2="1074" stroke="#fff" stroke-width="1.05"/>
<rect x="97.03" y="712.00" width="11.95" height="345.00" fill="#F8766D"/>
<rect x="112.44" y="866.50" width="11.95" height="190.50" fill="#F8766D"/>
<rect x="127.85" y="943.75" width="11.95" height="113.25" fill="#F8766D"/>
<rect x="143.27" y="958.00" width="11.95" height="99.00" fill="#F8766D"/>
<rect x="158.68" y="941.50" width="11.95" height="115.50" fill="#A3A500"/>
<rect x="174.09" y="961.50" width="11.95" height="95.50" fill="#A3A500"/>
<rect x="189.51" y="968.25" width="11.95" height="88.75" fill="#A3A500"/>
<rect x="204.92" y="844.25" width="11.95" height="212.75" fill="#00BF7D"/>
<rect x="220.34" y="917.50" width="11.95" height="139.50" fill="#00BF7D"/>
<rect x="235.75" y="835.25" width="11.95" height="221.75" fill="#00B0F6"/>
<rect x="251.16" y="899.00" width="11.95" height="158.00" fill="#00B0F6"/>
<rect x="266.58" y="905.25" width="11.95" height="151.75" fill="#00B0F6"/>
<rect x="281.99" y="915.75" width="11.95" height="141.25" fill="#00B0F6"/>
<rect x="297.41" y="917.50" width="11.95" height="139.50" fill="#00B0F6"/>
<rect x="312.82" y="924.25" width="11.95" height="132.75" fill="#00B0F6"/>
<rect x="328.23" y="931.00" width="11.95" height="126.00" fill="#00B0F6"/>
<rect x="343.65" y="950.75" width="11.95" height="106.25" fill="#00B0F6"/>
<rect x="359.06" y="960.50" width="11.95" height="96.50" fill="#00B0F6"/>
<rect x="374.48" y="965.00" width="11.95" height="92.00" fill="#00B0F6"/>
<rect x="389.89" y="966.00" width="11.95" height="91.00" fill="#00B0F6"/>
<rect x="405.30" y="978.50" width="11.95" height="78.50" fill="#00B0F6"/>
<rect x="420.72" y="978.50" width="11.95" height="78.50" fill="#00B0F6"/>
<rect x="436.13" y="980.50" width="11.95" height="76.50" fill="#00B0F6"/>
<rect x="451.55" y="981.75" width="11.95" height="75.25" fill="#00B0F6"/>
<rect x="466.96" y="827.00" width="11.95" height="230.00" fill="#E76BF3"/>
<rect x="482.37" y="884.00" width="11.95" height="173.00" fill="#E76BF3"/>
<rect x="497.79" y="952.00" width="11.95" height="105.00" fill="#E76BF3"/>
<rect x="513.20" y="967.50" width="11.95" height="89.50" fill="#E76BF3"/>
<rect x="528.61" y="972.00" width="11.95" height="85.00" fill="#E76BF3"/>
<rect x="544.03" y="976.75" width="11.95" height="80.25" fill="#E76BF3"/>
<line x1="103.00" x2="103.00" y1="1074" y2="1076.6" stroke="#333" stroke-width="1.05"/>
<line x1="118.41" x2="118.41" y1="1074" y2="1076.6" stroke="#333" stroke-width="1.05"/>
<line x1="133.83" x2="133.83" y1="1074" y2="1076.6" stroke="#333" stroke-width="1.05"/>
<line x1="149.24" x2="149.24" y1="1074" y2="1076.6" stroke="#333" stroke-width="1.05"/>
<line x1="164.65" x2="164.65" y1="1074" y2="1076.6" stroke="#333" stroke-width="1.05"/>
<line x1="180.07" x2="180.07" y1="1074" y2="1076.6" stroke="#333" stroke-width="1.05"/>
<line x1="195.48" x2="195.48" y1="1074" y2="1076.6" stroke="#333" stroke-width="1.05"/>
<line x1="210.90" x2="210.90" y1="1074" y2="1076.6" stroke="#333" stroke-width="1.05"/>
<line x1="226.31" x2="226.31" y1="1074" y2="1076.6" stroke="#333" stroke-width="1.05"/>
<line x1="241.72" x2="241.72" y1="1074" y2="1076.6" stroke="#333" stroke-width="1.05"/>
<line x1="257.14" x2="257.14" y1="1074" y2="1076.6" stroke="#333" stroke-width="1.05"/>
<line x1="272.55" x2="272.55" y1="1074" y2="1076.6" stroke="#333" stroke-width="1.05"/>
<line x1="287.97" x2="287.97" y1="1074" y2="1076.6" stroke="#333" stroke-width="1.05"/>
<line x1="303.38" x2="303.38" y1="1074" y2="1076.6" stroke="#333" stroke-width="1.05"/>
<line x1="318.79" x2="318.79" y1="1074" y2="1076.6" stroke="#333" stroke-width="1.05"/>
<line x1="334.21" x2="334.21" y1="1074" y2="1076.6" stroke="#333" stroke-width="1.05"/>
<line x1="349.62" x2="349.62" y1="1074" y2="1076.6" stroke="#333" stroke-width="1.05"/>
<line x1="365.03" x2="365.03" y1="1074" y2="1076.6" stroke="#333" stroke-width="1.05"/>
<line x1="380.45" x2="380.45" y1="1074" y2="1076.6" stroke="#333" stroke-width="1.05"/>
<line x1="395.86" x2="395.86" y1="1074" y2="1076.6" stroke="#333" stroke-width="1.05"/>
<line x1="411.28" x2="411.28" y1="1074" y2="1076.6" stroke="#333" stroke-width="1.05"/>
<line x1="426.69" x2="426.69" y1="1074" y2="1076.6" stroke="#333" stroke-width="1.05"/>
<line x1="442.10" x2="442.10" y1="1074" y2="1076.6" stroke="#333" stroke-width="1.05"/>
<line x1="457.52" x2="457.52" y1="1074" y2="1076.6" stroke="#333" stroke-width="1.05"/>
<line x1="472.93" x2="472.93" y1="1074" y2="1076.6" stroke="#333" stroke-width="1.05"/>
<line x1="488.35" x2="488.35" y1="1074" y2="1076.6" stroke="#333" stroke-width="1.05"/>
<line x1="503.76" x2="503.76" y1="1074" y2="1076.6" stroke="#333" stroke-width="1.05"/>
<line x1="519.17" x2="519.17" y1="1074" y2="1076.6" stroke="#333" stroke-width="1.05"/>
<line x1="534.59" x2="534.59" y1="1074" y2="1076.6" stroke="#333" stroke-width="1.05"/>
<line x1="550.00" x2="550.00" y1="1074" y2="1076.6" stroke="#333" stroke-width="1.05"/>
<line x1="91.15" x2="93.75" y1="1057.00" y2="1057.00" stroke="#333" stroke-width="1.05"/>
<text class="t" x="88.95" y="1059.70" text-anchor="end" font-size="8.2" textLength="4.28" lengthAdjust="spacingAndGlyphs">0</text>
<line x1="91.15" x2="93.75" y1="958.90" y2="958.90" stroke="#333" stroke-width="1.05"/>
<text class="t" x="88.95" y="961.60" text-anchor="end" font-size="8.2" textLength="4.28" lengthAdjust="spacingAndGlyphs">1</text>
<line x1="91.15" x2="93.75" y1="860.80" y2="860.80" stroke="#333" stroke-width="1.05"/>
<text class="t" x="88.95" y="863.50" text-anchor="end" font-size="8.2" textLength="4.28" lengthAdjust="spacingAndGlyphs">2</text>
<line x1="91.15" x2="93.75" y1="762.70" y2="762.70" stroke="#333" stroke-width="1.05"/>
<text class="t" x="88.95" y="765.40" text-anchor="end" font-size="8.2" textLength="4.28" lengthAdjust="spacingAndGlyphs">3</text>
<text class="t" transform="translate(109.90,1079.70) rotate(-80)" text-anchor="end" font-size="9.6" textLength="47.01" lengthAdjust="spacingAndGlyphs">Phagosome</text>
<text class="t" transform="translate(125.31,1079.70) rotate(-80)" text-anchor="end" font-size="9.6" textLength="47.33" lengthAdjust="spacingAndGlyphs">Ferroptosis</text>
<text class="t" transform="translate(140.73,1079.70) rotate(-80)" text-anchor="end" font-size="9.6" textLength="61.84" lengthAdjust="spacingAndGlyphs">Oocyte meiosis</text>
<text class="t" transform="translate(156.14,1079.70) rotate(-80)" text-anchor="end" font-size="9.6" textLength="48.66" lengthAdjust="spacingAndGlyphs">Necroptosis</text>
<text class="t" transform="translate(171.55,1079.70) rotate(-80)" text-anchor="end" font-size="9.6" textLength="119.33" lengthAdjust="spacingAndGlyphs">Nucleocytoplasmic transport</text>
<text class="t" transform="translate(186.97,1079.70) rotate(-80)" text-anchor="end" font-size="9.6" textLength="40.01" lengthAdjust="spacingAndGlyphs">Ribosome</text>
<text class="t" transform="translate(202.38,1079.70) rotate(-80)" text-anchor="end" font-size="9.6" textLength="48.67" lengthAdjust="spacingAndGlyphs">Proteasome</text>
<text class="t" transform="translate(217.80,1079.70) rotate(-80)" text-anchor="end" font-size="9.6" textLength="134.67" lengthAdjust="spacingAndGlyphs">Herpes simplex virus 1 infection</text>
<text class="t" transform="translate(233.21,1079.70) rotate(-80)" text-anchor="end" font-size="9.6" textLength="48.82" lengthAdjust="spacingAndGlyphs">Influenza A</text>
<text class="t" transform="translate(248.62,1079.70) rotate(-80)" text-anchor="end" font-size="9.6" textLength="130.01" lengthAdjust="spacingAndGlyphs">Starch and sucrose metabolism</text>
<text class="t" transform="translate(264.04,1079.70) rotate(-80)" text-anchor="end" font-size="9.6" textLength="93.69" lengthAdjust="spacingAndGlyphs">Riboflavin metabolism</text>
<text class="t" transform="translate(279.45,1079.70) rotate(-80)" text-anchor="end" font-size="9.6" textLength="91.36" lengthAdjust="spacingAndGlyphs">Galactose metabolism</text>
<text class="t" transform="translate(294.87,1079.70) rotate(-80)" text-anchor="end" font-size="9.6" textLength="110.51" lengthAdjust="spacingAndGlyphs">Oxidative phosphorylation</text>
<text class="t" transform="translate(310.28,1079.70) rotate(-80)" text-anchor="end" font-size="9.6" textLength="193.69" lengthAdjust="spacingAndGlyphs">Amino sugar and nucleotide sugar metabolism</text>
<text class="t" transform="translate(325.69,1079.70) rotate(-80)" text-anchor="end" font-size="9.6" textLength="111.20" lengthAdjust="spacingAndGlyphs">Phenylalanine metabolism</text>
<text class="t" transform="translate(341.11,1079.70) rotate(-80)" text-anchor="end" font-size="9.6" textLength="77.35" lengthAdjust="spacingAndGlyphs">Sulfur metabolism</text>
<text class="t" transform="translate(356.52,1079.70) rotate(-80)" text-anchor="end" font-size="9.6" textLength="93.18" lengthAdjust="spacingAndGlyphs">Porphyrin metabolism</text>
<text class="t" transform="translate(371.93,1079.70) rotate(-80)" text-anchor="end" font-size="9.6" textLength="140.51" lengthAdjust="spacingAndGlyphs">Drug metabolism - other enzymes</text>
<text class="t" transform="translate(387.35,1079.70) rotate(-80)" text-anchor="end" font-size="9.6" textLength="101.02" lengthAdjust="spacingAndGlyphs">Glutathione metabolism</text>
<text class="t" transform="translate(402.76,1079.70) rotate(-80)" text-anchor="end" font-size="9.6" textLength="90.50" lengthAdjust="spacingAndGlyphs">Arginine biosynthesis</text>
<text class="t" transform="translate(418.18,1079.70) rotate(-80)" text-anchor="end" font-size="9.6" textLength="247.86" lengthAdjust="spacingAndGlyphs">Glycosaminoglycan biosynthesis - heparan sulfate / heparin</text>
<text class="t" transform="translate(433.59,1079.70) rotate(-80)" text-anchor="end" font-size="9.6" textLength="80.34" lengthAdjust="spacingAndGlyphs">Lysine degradation</text>
<text class="t" transform="translate(449.00,1079.70) rotate(-80)" text-anchor="end" font-size="9.6" textLength="220.53" lengthAdjust="spacingAndGlyphs">Phenylalanine, tyrosine and tryptophan biosynthesis</text>
<text class="t" transform="translate(464.42,1079.70) rotate(-80)" text-anchor="end" font-size="9.6" textLength="148.69" lengthAdjust="spacingAndGlyphs">Pantothenate and CoA biosynthesis</text>
<text class="t" transform="translate(479.83,1079.70) rotate(-80)" text-anchor="end" font-size="9.6" textLength="193.33" lengthAdjust="spacingAndGlyphs">Intestinal immune network for IgA production</text>
<text class="t" transform="translate(495.25,1079.70) rotate(-80)" text-anchor="end" font-size="9.6" textLength="134.01" lengthAdjust="spacingAndGlyphs">Cytosolic DNA-sensing pathway</text>
<text class="t" transform="translate(510.66,1079.70) rotate(-80)" text-anchor="end" font-size="9.6" textLength="158.34" lengthAdjust="spacingAndGlyphs">RIG-I-like receptor signaling pathway</text>
<text class="t" transform="translate(526.07,1079.70) rotate(-80)" text-anchor="end" font-size="9.6" textLength="155.85" lengthAdjust="spacingAndGlyphs">NOD-like receptor signaling pathway</text>
<text class="t" transform="translate(541.49,1079.70) rotate(-80)" text-anchor="end" font-size="9.6" textLength="150.69" lengthAdjust="spacingAndGlyphs">Toll-like receptor signaling pathway</text>
<text class="t" transform="translate(556.90,1079.70) rotate(-80)" text-anchor="end" font-size="9.6" textLength="150.50" lengthAdjust="spacingAndGlyphs">Vascular smooth muscle contraction</text>
</g>
<text class="b" x="326.50" y="1334.6" text-anchor="middle" font-size="9.7" font-weight="bold" textLength="40.14" lengthAdjust="spacingAndGlyphs">Pathway</text>
<text class="b" transform="translate(80.3,884.50) rotate(-90)" text-anchor="middle" font-size="9.7" font-weight="bold" textLength="68.98" lengthAdjust="spacingAndGlyphs">-log10(P-value)</text>
<text class="k" x="574.2" y="846.6999999999999" font-size="10.5" textLength="41.22" lengthAdjust="spacingAndGlyphs">Category</text>
<rect x="575.0" y="853.85" width="14.5" height="13.9" fill="#F8766D"/>
<text class="k" x="594.7" y="863.75" font-size="8.4" textLength="67.15" lengthAdjust="spacingAndGlyphs">Cellular Processes</text>
<rect x="575.0" y="869.50" width="14.5" height="13.9" fill="#A3A500"/>
<text class="k" x="594.7" y="879.40" font-size="8.4" textLength="115.28" lengthAdjust="spacingAndGlyphs">Genetic Information Processing</text>
<rect x="575.0" y="885.15" width="14.5" height="13.9" fill="#00BF7D"/>
<text class="k" x="594.7" y="895.05" font-size="8.4" textLength="61.75" lengthAdjust="spacingAndGlyphs">Human Diseases</text>
<rect x="575.0" y="900.80" width="14.5" height="13.9" fill="#00B0F6"/>
<text class="k" x="594.7" y="910.70" font-size="8.4" textLength="42.87" lengthAdjust="spacingAndGlyphs">Metabolism</text>
<rect x="575.0" y="916.45" width="14.5" height="13.9" fill="#E76BF3"/>
<text class="k" x="594.7" y="926.35" font-size="8.4" textLength="75.94" lengthAdjust="spacingAndGlyphs">Organismal Systems</text>
<text x="5" y="729.6" font-size="46.3" fill="#000">C</text>
<g transform="translate(0,0.35)">
<rect x="913.75" y="695" width="438.0" height="440" fill="#EBEBEB"/>
<line x1="913.75" x2="1351.75" y1="1077.10" y2="1077.10" stroke="#fff" stroke-width="0.55" stroke-opacity="0.85"/>
<line x1="913.75" x2="1351.75" y1="1000.90" y2="1000.90" stroke="#fff" stroke-width="0.55" stroke-opacity="0.85"/>
<line x1="913.75" x2="1351.75" y1="924.70" y2="924.70" stroke="#fff" stroke-width="0.55" stroke-opacity="0.85"/>
<line x1="913.75" x2="1351.75" y1="848.50" y2="848.50" stroke="#fff" stroke-width="0.55" stroke-opacity="0.85"/>
<line x1="913.75" x2="1351.75" y1="772.30" y2="772.30" stroke="#fff" stroke-width="0.55" stroke-opacity="0.85"/>
<line x1="913.75" x2="1351.75" y1="696.10" y2="696.10" stroke="#fff" stroke-width="0.55" stroke-opacity="0.85"/>
<line x1="913.75" x2="1351.75" y1="1115.20" y2="1115.20" stroke="#fff" stroke-width="1.05"/>
<line x1="913.75" x2="1351.75" y1="1039.00" y2="1039.00" stroke="#fff" stroke-width="1.05"/>
<line x1="913.75" x2="1351.75" y1="962.80" y2="962.80" stroke="#fff" stroke-width="1.05"/>
<line x1="913.75" x2="1351.75" y1="886.60" y2="886.60" stroke="#fff" stroke-width="1.05"/>
<line x1="913.75" x2="1351.75" y1="810.40" y2="810.40" stroke="#fff" stroke-width="1.05"/>
<line x1="913.75" x2="1351.75" y1="734.20" y2="734.20" stroke="#fff" stroke-width="1.05"/>
<line x1="922.45" x2="922.45" y1="695" y2="1135" stroke="#fff" stroke-width="1.05"/>
<line x1="936.96" x2="936.96" y1="695" y2="1135" stroke="#fff" stroke-width="1.05"/>
<line x1="951.46" x2="951.46" y1="695" y2="1135" stroke="#fff" stroke-width="1.05"/>
<line x1="965.96" x2="965.96" y1="695" y2="1135" stroke="#fff" stroke-width="1.05"/>
<line x1="980.47" x2="980.47" y1="695" y2="1135" stroke="#fff" stroke-width="1.05"/>
<line x1="994.97" x2="994.97" y1="695" y2="1135" stroke="#fff" stroke-width="1.05"/>
<line x1="1009.47" x2="1009.47" y1="695" y2="1135" stroke="#fff" stroke-width="1.05"/>
<line x1="1023.98" x2="1023.98" y1="695" y2="1135" stroke="#fff" stroke-width="1.05"/>
<line x1="1038.48" x2="1038.48" y1="695" y2="1135" stroke="#fff" stroke-width="1.05"/>
<line x1="1052.98" x2="1052.98" y1="695" y2="1135" stroke="#fff" stroke-width="1.05"/>
<line x1="1067.49" x2="1067.49" y1="695" y2="1135" stroke="#fff" stroke-width="1.05"/>
<line x1="1081.99" x2="1081.99" y1="695" y2="1135" stroke="#fff" stroke-width="1.05"/>
<line x1="1096.49" x2="1096.49" y1="695" y2="1135" stroke="#fff" stroke-width="1.05"/>
<line x1="1111.00" x2="1111.00" y1="695" y2="1135" stroke="#fff" stroke-width="1.05"/>
<line x1="1125.50" x2="1125.50" y1="695" y2="1135" stroke="#fff" stroke-width="1.05"/>
<line x1="1140.00" x2="1140.00" y1="695" y2="1135" stroke="#fff" stroke-width="1.05"/>
<line x1="1154.50" x2="1154.50" y1="695" y2="1135" stroke="#fff" stroke-width="1.05"/>
<line x1="1169.01" x2="1169.01" y1="695" y2="1135" stroke="#fff" stroke-width="1.05"/>
<line x1="1183.51" x2="1183.51" y1="695" y2="1135" stroke="#fff" stroke-width="1.05"/>
<line x1="1198.01" x2="1198.01" y1="695" y2="1135" stroke="#fff" stroke-width="1.05"/>
<line x1="1212.52" x2="1212.52" y1="695" y2="1135" stroke="#fff" stroke-width="1.05"/>
<line x1="1227.02" x2="1227.02" y1="695" y2="1135" stroke="#fff" stroke-width="1.05"/>
<line x1="1241.52" x2="1241.52" y1="695" y2="1135" stroke="#fff" stroke-width="1.05"/>
<line x1="1256.03" x2="1256.03" y1="695" y2="1135" stroke="#fff" stroke-width="1.05"/>
<line x1="1270.53" x2="1270.53" y1="695" y2="1135" stroke="#fff" stroke-width="1.05"/>
<line x1="1285.03" x2="1285.03" y1="695" y2="1135" stroke="#fff" stroke-width="1.05"/>
<line x1="1299.54" x2="1299.54" y1="695" y2="1135" stroke="#fff" stroke-width="1.05"/>
<line x1="1314.04" x2="1314.04" y1="695" y2="1135" stroke="#fff" stroke-width="1.05"/>
<line x1="1328.54" x2="1328.54" y1="695" y2="1135" stroke="#fff" stroke-width="1.05"/>
<line x1="1343.05" x2="1343.05" y1="695" y2="1135" stroke="#fff" stroke-width="1.05"/>
<rect x="916.83" y="715.00" width="11.24" height="400.20" fill="#F8766D"/>
<rect x="931.34" y="800.00" width="11.24" height="315.20" fill="#F8766D"/>
<rect x="945.84" y="810.25" width="11.24" height="304.95" fill="#F8766D"/>
<rect x="960.34" y="840.75" width="11.24" height="274.45" fill="#F8766D"/>
<rect x="974.85" y="884.00" width="11.24" height="231.20" fill="#F8766D"/>
<rect x="989.35" y="938.25" width="11.24" height="176.95" fill="#F8766D"/>
<rect x="1003.85" y="954.75" width="11.24" height="160.45" fill="#F8766D"/>
<rect x="1018.36" y="874.50" width="11.24" height="240.70" fill="#B79F00"/>
<rect x="1032.86" y="922.00" width="11.24" height="193.20" fill="#B79F00"/>
<rect x="1047.36" y="971.75" width="11.24" height="143.45" fill="#B79F00"/>
<rect x="1061.87" y="742.00" width="11.24" height="373.20" fill="#00BA38"/>
<rect x="1076.37" y="812.75" width="11.24" height="302.45" fill="#00BA38"/>
<rect x="1090.87" y="813.50" width="11.24" height="301.70" fill="#00BA38"/>
<rect x="1105.38" y="814.75" width="11.24" height="300.45" fill="#00BA38"/>
<rect x="1119.88" y="861.50" width="11.24" height="253.70" fill="#00BA38"/>
<rect x="1134.38" y="870.00" width="11.24" height="245.20" fill="#00BA38"/>
<rect x="1148.88" y="929.50" width="11.24" height="185.70" fill="#00BA38"/>
<rect x="1163.39" y="930.00" width="11.24" height="185.20" fill="#00BA38"/>
<rect x="1177.89" y="940.00" width="11.24" height="175.20" fill="#00BA38"/>
<rect x="1192.39" y="943.50" width="11.24" height="171.70" fill="#00BA38"/>
<rect x="1206.90" y="949.75" width="11.24" height="165.45" fill="#00BA38"/>
<rect x="1221.40" y="940.00" width="11.24" height="175.20" fill="#00BFC4"/>
<rect x="1235.90" y="778.75" width="11.24" height="336.45" fill="#619CFF"/>
<rect x="1250.41" y="903.75" width="11.24" height="211.45" fill="#619CFF"/>
<rect x="1264.91" y="914.00" width="11.24" height="201.20" fill="#619CFF"/>
<rect x="1279.41" y="920.25" width="11.24" height="194.95" fill="#619CFF"/>
<rect x="1293.92" y="933.50" width="11.24" height="181.70" fill="#619CFF"/>
<rect x="1308.42" y="936.75" width="11.24" height="178.45" fill="#619CFF"/>
<rect x="1322.92" y="948.75" width="11.24" height="166.45" fill="#619CFF"/>
<rect x="1337.43" y="849.75" width="11.24" height="265.45" fill="#F564E3"/>
<line x1="922.45" x2="922.45" y1="1135" y2="1137.6" stroke="#333" stroke-width="1.05"/>
<line x1="936.96" x2="936.96" y1="1135" y2="1137.6" stroke="#333" stroke-width="1.05"/>
<line x1="951.46" x2="951.46" y1="1135" y2="1137.6" stroke="#333" stroke-width="1.05"/>
<line x1="965.96" x2="965.96" y1="1135" y2="1137.6" stroke="#333" stroke-width="1.05"/>
<line x1="980.47" x2="980.47" y1="1135" y2="1137.6" stroke="#333" stroke-width="1.05"/>
<line x1="994.97" x2="994.97" y1="1135" y2="1137.6" stroke="#333" stroke-width="1.05"/>
<line x1="1009.47" x2="1009.47" y1="1135" y2="1137.6" stroke="#333" stroke-width="1.05"/>
<line x1="1023.98" x2="1023.98" y1="1135" y2="1137.6" stroke="#333" stroke-width="1.05"/>
<line x1="1038.48" x2="1038.48" y1="1135" y2="1137.6" stroke="#333" stroke-width="1.05"/>
<line x1="1052.98" x2="1052.98" y1="1135" y2="1137.6" stroke="#333" stroke-width="1.05"/>
<line x1="1067.49" x2="1067.49" y1="1135" y2="1137.6" stroke="#333" stroke-width="1.05"/>
<line x1="1081.99" x2="1081.99" y1="1135" y2="1137.6" stroke="#333" stroke-width="1.05"/>
<line x1="1096.49" x2="1096.49" y1="1135" y2="1137.6" stroke="#333" stroke-width="1.05"/>
<line x1="1111.00" x2="1111.00" y1="1135" y2="1137.6" stroke="#333" stroke-width="1.05"/>
<line x1="1125.50" x2="1125.50" y1="1135" y2="1137.6" stroke="#333" stroke-width="1.05"/>
<line x1="1140.00" x2="1140.00" y1="1135" y2="1137.6" stroke="#333" stroke-width="1.05"/>
<line x1="1154.50" x2="1154.50" y1="1135" y2="1137.6" stroke="#333" stroke-width="1.05"/>
<line x1="1169.01" x2="1169.01" y1="1135" y2="1137.6" stroke="#333" stroke-width="1.05"/>
<line x1="1183.51" x2="1183.51" y1="1135" y2="1137.6" stroke="#333" stroke-width="1.05"/>
<line x1="1198.01" x2="1198.01" y1="1135" y2="1137.6" stroke="#333" stroke-width="1.05"/>
<line x1="1212.52" x2="1212.52" y1="1135" y2="1137.6" stroke="#333" stroke-width="1.05"/>
<line x1="1227.02" x2="1227.02" y1="1135" y2="1137.6" stroke="#333" stroke-width="1.05"/>
<line x1="1241.52" x2="1241.52" y1="1135" y2="1137.6" stroke="#333" stroke-width="1.05"/>
<line x1="1256.03" x2="1256.03" y1="1135" y2="1137.6" stroke="#333" stroke-width="1.05"/>
<line x1="1270.53" x2="1270.53" y1="1135" y2="1137.6" stroke="#333" stroke-width="1.05"/>
<line x1="1285.03" x2="1285.03" y1="1135" y2="1137.6" stroke="#333" stroke-width="1.05"/>
<line x1="1299.54" x2="1299.54" y1="1135" y2="1137.6" stroke="#333" stroke-width="1.05"/>
<line x1="1314.04" x2="1314.04" y1="1135" y2="1137.6" stroke="#333" stroke-width="1.05"/>
<line x1="1328.54" x2="1328.54" y1="1135" y2="1137.6" stroke="#333" stroke-width="1.05"/>
<line x1="1343.05" x2="1343.05" y1="1135" y2="1137.6" stroke="#333" stroke-width="1.05"/>
<line x1="911.15" x2="913.75" y1="1115.20" y2="1115.20" stroke="#333" stroke-width="1.05"/>
<text class="t" x="908.95" y="1117.90" text-anchor="end" font-size="8.2" textLength="4.28" lengthAdjust="spacingAndGlyphs">0</text>
<line x1="911.15" x2="913.75" y1="1039.00" y2="1039.00" stroke="#333" stroke-width="1.05"/>
<text class="t" x="908.95" y="1041.70" text-anchor="end" font-size="8.2" textLength="4.28" lengthAdjust="spacingAndGlyphs">1</text>
<line x1="911.15" x2="913.75" y1="962.80" y2="962.80" stroke="#333" stroke-width="1.05"/>
<text class="t" x="908.95" y="965.50" text-anchor="end" font-size="8.2" textLength="4.28" lengthAdjust="spacingAndGlyphs">2</text>
<line x1="911.15" x2="913.75" y1="886.60" y2="886.60" stroke="#333" stroke-width="1.05"/>
<text class="t" x="908.95" y="889.30" text-anchor="end" font-size="8.2" textLength="4.28" lengthAdjust="spacingAndGlyphs">3</text>
<line x1="911.15" x2="913.75" y1="810.40" y2="810.40" stroke="#333" stroke-width="1.05"/>
<text class="t" x="908.95" y="813.10" text-anchor="end" font-size="8.2" textLength="4.28" lengthAdjust="spacingAndGlyphs">4</text>
<line x1="911.15" x2="913.75" y1="734.20" y2="734.20" stroke="#333" stroke-width="1.05"/>
<text class="t" x="908.95" y="736.90" text-anchor="end" font-size="8.2" textLength="4.28" lengthAdjust="spacingAndGlyphs">5</text>
<text class="t" transform="translate(929.35,1140.70) rotate(-80)" text-anchor="end" font-size="9.6" textLength="62.01" lengthAdjust="spacingAndGlyphs">Focal adhesion</text>
<text class="t" transform="translate(943.86,1140.70) rotate(-80)" text-anchor="end" font-size="9.6" textLength="49.66" lengthAdjust="spacingAndGlyphs">Endocytosis</text>
<text class="t" transform="translate(958.36,1140.70) rotate(-80)" text-anchor="end" font-size="9.6" textLength="39.33" lengthAdjust="spacingAndGlyphs">Cell cycle</text>
<text class="t" transform="translate(972.86,1140.70) rotate(-80)" text-anchor="end" font-size="9.6" textLength="81.83" lengthAdjust="spacingAndGlyphs">Cellular senescence</text>
<text class="t" transform="translate(987.37,1140.70) rotate(-80)" text-anchor="end" font-size="9.6" textLength="82.51" lengthAdjust="spacingAndGlyphs">Autophagy - animal</text>
<text class="t" transform="translate(1001.87,1140.70) rotate(-80)" text-anchor="end" font-size="9.6" textLength="81.85" lengthAdjust="spacingAndGlyphs">Mitophagy - animal</text>
<text class="t" transform="translate(1016.37,1140.70) rotate(-80)" text-anchor="end" font-size="9.6" textLength="40.67" lengthAdjust="spacingAndGlyphs">Lysosome</text>
<text class="t" transform="translate(1030.88,1140.70) rotate(-80)" text-anchor="end" font-size="9.6" textLength="106.81" lengthAdjust="spacingAndGlyphs">ECM-receptor interaction</text>
<text class="t" transform="translate(1045.38,1140.70) rotate(-80)" text-anchor="end" font-size="9.6" textLength="158.19" lengthAdjust="spacingAndGlyphs">Phosphatidylinositol signaling system</text>
<text class="t" transform="translate(1059.88,1140.70) rotate(-80)" text-anchor="end" font-size="9.6" textLength="107.35" lengthAdjust="spacingAndGlyphs">MAPK signaling pathway</text>
<text class="t" transform="translate(1074.39,1140.70) rotate(-80)" text-anchor="end" font-size="9.6" textLength="119.33" lengthAdjust="spacingAndGlyphs">Nucleocytoplasmic transport</text>
<text class="t" transform="translate(1088.89,1140.70) rotate(-80)" text-anchor="end" font-size="9.6" textLength="185.17" lengthAdjust="spacingAndGlyphs">Protein processing in endoplasmic reticulum</text>
<text class="t" transform="translate(1103.39,1140.70) rotate(-80)" text-anchor="end" font-size="9.6" textLength="129.02" lengthAdjust="spacingAndGlyphs">Ubiquitin mediated proteolysis</text>
<text class="t" transform="translate(1117.90,1140.70) rotate(-80)" text-anchor="end" font-size="9.6" textLength="144.52" lengthAdjust="spacingAndGlyphs">Ribosome biogenesis in eukaryotes</text>
<text class="t" transform="translate(1132.40,1140.70) rotate(-80)" text-anchor="end" font-size="9.6" textLength="68.00" lengthAdjust="spacingAndGlyphs">DNA replication</text>
<text class="t" transform="translate(1146.90,1140.70) rotate(-80)" text-anchor="end" font-size="9.6" textLength="50.67" lengthAdjust="spacingAndGlyphs">Spliceosome</text>
<text class="t" transform="translate(1161.40,1140.70) rotate(-80)" text-anchor="end" font-size="9.6" textLength="113.00" lengthAdjust="spacingAndGlyphs">Homologous recombination</text>
<text class="t" transform="translate(1175.91,1140.70) rotate(-80)" text-anchor="end" font-size="9.6" textLength="108.33" lengthAdjust="spacingAndGlyphs">Nucleotide excision repair</text>
<text class="t" transform="translate(1190.41,1140.70) rotate(-80)" text-anchor="end" font-size="9.6" textLength="119.84" lengthAdjust="spacingAndGlyphs">mRNA surveillance pathway</text>
<text class="t" transform="translate(1204.91,1140.70) rotate(-80)" text-anchor="end" font-size="9.6" textLength="69.50" lengthAdjust="spacingAndGlyphs">Mismatch repair</text>
<text class="t" transform="translate(1219.42,1140.70) rotate(-80)" text-anchor="end" font-size="9.6" textLength="48.67" lengthAdjust="spacingAndGlyphs">Proteasome</text>
<text class="t" transform="translate(1233.92,1140.70) rotate(-80)" text-anchor="end" font-size="9.6" textLength="85.35" lengthAdjust="spacingAndGlyphs">Salmonella infection</text>
<text class="t" transform="translate(1248.42,1140.70) rotate(-80)" text-anchor="end" font-size="9.6" textLength="101.02" lengthAdjust="spacingAndGlyphs">Glutathione metabolism</text>
<text class="t" transform="translate(1262.93,1140.70) rotate(-80)" text-anchor="end" font-size="9.6" textLength="127.85" lengthAdjust="spacingAndGlyphs">Inositol phosphate metabolism</text>
<text class="t" transform="translate(1277.43,1140.70) rotate(-80)" text-anchor="end" font-size="9.6" textLength="176.18" lengthAdjust="spacingAndGlyphs">Valine, leucine and isoleucine degradation</text>
<text class="t" transform="translate(1291.93,1140.70) rotate(-80)" text-anchor="end" font-size="9.6" textLength="155.03" lengthAdjust="spacingAndGlyphs">Cysteine and methionine metabolism</text>
<text class="t" transform="translate(1306.44,1140.70) rotate(-80)" text-anchor="end" font-size="9.6" textLength="93.51" lengthAdjust="spacingAndGlyphs">N-Glycan biosynthesis</text>
<text class="t" transform="translate(1320.94,1140.70) rotate(-80)" text-anchor="end" font-size="9.6" textLength="144.85" lengthAdjust="spacingAndGlyphs">Fructose and mannose metabolism</text>
<text class="t" transform="translate(1335.44,1140.70) rotate(-80)" text-anchor="end" font-size="9.6" textLength="110.51" lengthAdjust="spacingAndGlyphs">Oxidative phosphorylation</text>
<text class="t" transform="translate(1349.95,1140.70) rotate(-80)" text-anchor="end" font-size="9.6" textLength="174.34" lengthAdjust="spacingAndGlyphs">Progesterone-mediated oocyte maturation</text>
</g>
<text class="b" x="1132.75" y="1334.6" text-anchor="middle" font-size="9.7" font-weight="bold" textLength="40.14" lengthAdjust="spacingAndGlyphs">Pathway</text>
<text class="b" transform="translate(900.2,915.00) rotate(-90)" text-anchor="middle" font-size="9.7" font-weight="bold" textLength="68.98" lengthAdjust="spacingAndGlyphs">-log10(P-value)</text>
<text class="k" x="1366.7" y="869.6999999999999" font-size="10.5" textLength="41.22" lengthAdjust="spacingAndGlyphs">Category</text>
<rect x="1367.5" y="876.85" width="14.5" height="13.9" fill="#F8766D"/>
<text class="k" x="1387.2" y="886.75" font-size="8.4" textLength="67.15" lengthAdjust="spacingAndGlyphs">Cellular Processes</text>
<rect x="1367.5" y="892.50" width="14.5" height="13.9" fill="#B79F00"/>
<text class="k" x="1387.2" y="902.40" font-size="8.4" textLength="142.63" lengthAdjust="spacingAndGlyphs">Environmental Information Processing</text>
<rect x="1367.5" y="908.15" width="14.5" height="13.9" fill="#00BA38"/>
<text class="k" x="1387.2" y="918.05" font-size="8.4" textLength="115.28" lengthAdjust="spacingAndGlyphs">Genetic Information Processing</text>
<rect x="1367.5" y="923.80" width="14.5" height="13.9" fill="#00BFC4"/>
<text class="k" x="1387.2" y="933.70" font-size="8.4" textLength="61.75" lengthAdjust="spacingAndGlyphs">Human Diseases</text>
<rect x="1367.5" y="939.45" width="14.5" height="13.9" fill="#619CFF"/>
<text class="k" x="1387.2" y="949.35" font-size="8.4" textLength="42.87" lengthAdjust="spacingAndGlyphs">Metabolism</text>
<rect x="1367.5" y="955.10" width="14.5" height="13.9" fill="#F564E3"/>
<text class="k" x="1387.2" y="965.00" font-size="8.4" textLength="75.94" lengthAdjust="spacingAndGlyphs">Organismal Systems</text>
<text x="828.5" y="730" font-size="46.3" fill="#000">D</text>
</svg></body></html>
